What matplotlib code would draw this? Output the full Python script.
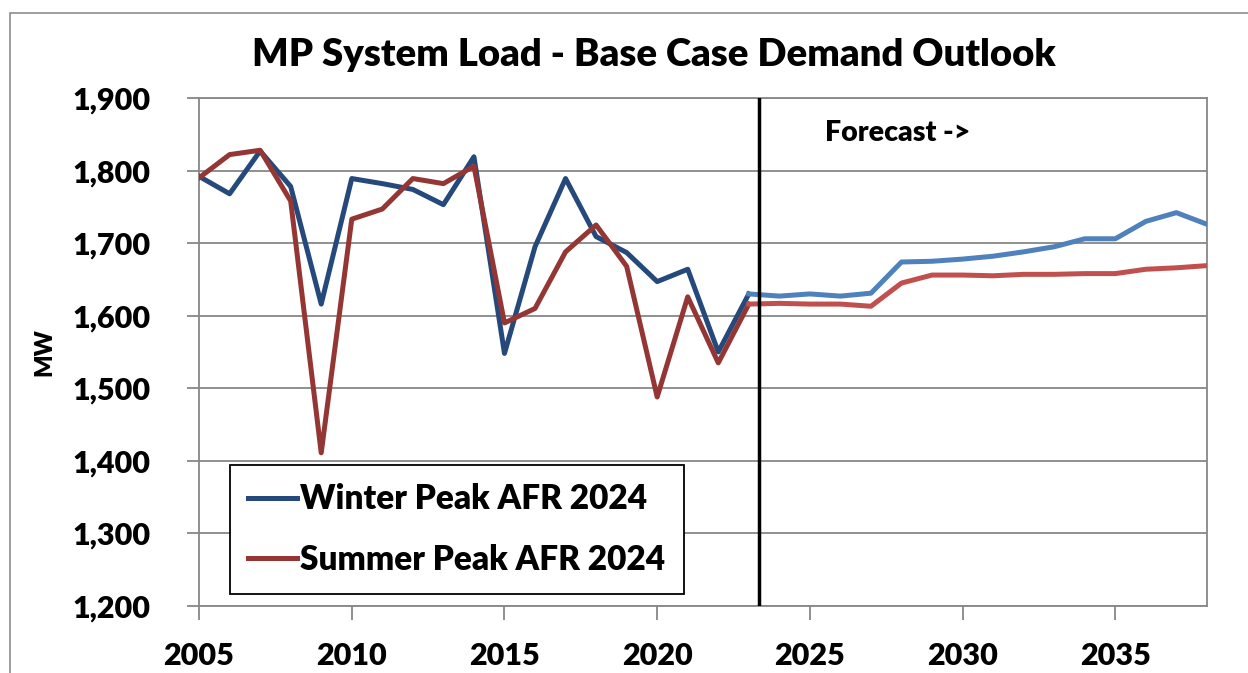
import matplotlib
matplotlib.use('Agg')
import matplotlib.pyplot as plt
from matplotlib.patches import Rectangle
from matplotlib.ticker import FuncFormatter

# history (through 2023)
hist_years = list(range(2005, 2024))
winter_hist = [1792, 1768, 1827, 1778, 1616, 1789, 1782, 1774, 1753, 1819, 1548,
               1695, 1789, 1709, 1687, 1647, 1664, 1550, 1630]
summer_hist = [1790, 1822, 1828, 1758, 1411, 1733, 1747, 1789, 1782, 1806, 1590,
               1610, 1688, 1725, 1668, 1488, 1626, 1535, 1616]

# forecast (2023 onward)
fc_years = list(range(2023, 2039))
winter_fc = [1630, 1627, 1630, 1627, 1631, 1674, 1675, 1678, 1682, 1688, 1695,
             1706, 1706, 1730, 1742, 1726]
summer_fc = [1616, 1617, 1616, 1616, 1613, 1645, 1656, 1656, 1655, 1657, 1657,
             1658, 1658, 1664, 1666, 1669]

x_ticks = [2005, 2010, 2015, 2020, 2025, 2030, 2035]
y_ticks = [1200, 1300, 1400, 1500, 1600, 1700, 1800, 1900]
forecast_start = 2023.33

W = 'heavy'
plt.rcParams['font.family'] = ['Lato', 'DejaVu Sans']
plt.rcParams['font.weight'] = W

fig = plt.figure(figsize=(12.48, 6.73), dpi=100)
ax = fig.add_axes([0.1595, 0.0996, 0.8076, 0.7548])

grid_col = '#878787'
lw = 3.6

ax.plot(hist_years, winter_hist, color='#24497A', lw=lw, label='Winter Peak AFR 2024',
        solid_joinstyle='round', zorder=3)
ax.plot(hist_years, summer_hist, color='#943634', lw=lw, label='Summer Peak AFR 2024',
        solid_joinstyle='round', zorder=3)
ax.plot(fc_years, winter_fc, color='#4F81BD', lw=lw, solid_joinstyle='round', zorder=3)
ax.plot(fc_years, summer_fc, color='#C0504D', lw=lw, solid_joinstyle='round', zorder=3)

ax.axvline(forecast_start, color='black', lw=2.5, zorder=4)
ax.text(2025.5, 1852, 'Forecast ->', fontsize=20.5, fontweight=W, va='center')

ax.set_xlim(2005, 2038)
ax.set_ylim(1200, 1900)
ax.set_xticks(x_ticks)
ax.set_yticks(y_ticks)
ax.yaxis.set_major_formatter(FuncFormatter(lambda v, p: f'{int(v):,}'))
ax.tick_params(axis='y', labelsize=22, length=9, width=1.3, color=grid_col, pad=26)
ax.tick_params(axis='x', labelsize=22, length=10, width=1.3, color=grid_col, pad=16)
for lab in ax.get_xticklabels() + ax.get_yticklabels():
    lab.set_fontweight(W)

ax.grid(axis='y', color=grid_col, lw=1.3)
ax.set_axisbelow(True)
for s in ax.spines.values():
    s.set_color(grid_col)
    s.set_linewidth(1.3)

ax.set_ylabel('MW', fontsize=17, fontweight=W, labelpad=12)

leg = ax.legend(loc='upper left', bbox_to_anchor=(0.0308, 0.2776), borderaxespad=0,
                fontsize=24, handlelength=1.45, handletextpad=0.1, labelspacing=0.85,
                borderpad=0.55, fancybox=False, framealpha=1)
leg.get_frame().set_edgecolor('black')
leg.get_frame().set_linewidth(1.3)
for t in leg.get_texts():
    t.set_fontweight(W)

fig.text(0.524, 0.918, 'MP System Load - Base Case Demand Outlook', fontsize=27.5,
         fontweight=W, ha='center', va='center')

# outer chart border
fig.patches.append(Rectangle((0.008, -0.2), 1.2, 1.1807, transform=fig.transFigure,
                             fill=False, edgecolor='#8c8c8c', lw=1.2, clip_on=False))

fig.savefig('out.png', dpi=100)
